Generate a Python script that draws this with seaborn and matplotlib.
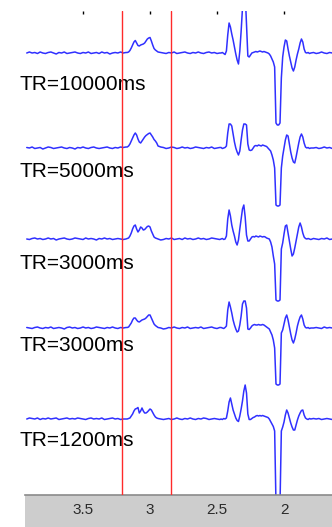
import numpy as np
import pandas as pd
import matplotlib
matplotlib.use("Agg")
import matplotlib.pyplot as plt
import seaborn as sns
from matplotlib.patches import Rectangle

# Chemical shift grid (ppm), shared by all five spectra
ppm = [3.92, 3.90, 3.88, 3.86, 3.84, 3.82, 3.80, 3.78, 3.76, 3.74, 3.72, 3.70, 3.68,
       3.66, 3.64, 3.62, 3.60, 3.58, 3.56, 3.54, 3.52, 3.50, 3.48, 3.46, 3.44, 3.42,
       3.40, 3.38, 3.36, 3.34, 3.32, 3.30, 3.28, 3.26, 3.24, 3.22, 3.20, 3.18,
       3.17, 3.16, 3.15, 3.14, 3.13, 3.12, 3.11, 3.10, 3.09, 3.08, 3.07, 3.06, 3.05,
       3.04, 3.03, 3.02, 3.01, 3.00, 2.99, 2.98, 2.97, 2.96, 2.95,
       2.94, 2.92, 2.90, 2.88, 2.86, 2.84, 2.82, 2.80, 2.78, 2.76, 2.74, 2.72, 2.70,
       2.68, 2.66, 2.64, 2.62, 2.60, 2.58, 2.56, 2.54, 2.52, 2.50, 2.48,
       2.47, 2.46, 2.45, 2.44, 2.43, 2.42, 2.41, 2.40, 2.39, 2.38,
       2.37, 2.36, 2.35, 2.34, 2.33, 2.32, 2.31, 2.30, 2.29, 2.28,
       2.27, 2.26, 2.25, 2.24, 2.23, 2.22, 2.21, 2.20, 2.19, 2.18,
       2.17, 2.16, 2.15, 2.14, 2.13, 2.12, 2.11, 2.10, 2.09, 2.08,
       2.07, 2.06, 2.05, 2.04, 2.03, 2.02, 2.01, 2.00, 1.99, 1.98,
       1.97, 1.96, 1.95, 1.94, 1.93, 1.92, 1.91, 1.90, 1.89, 1.88,
       1.87, 1.86, 1.85, 1.84, 1.83, 1.82, 1.81, 1.80,
       1.78, 1.76, 1.74, 1.72, 1.70, 1.68, 1.66, 1.64]

tr_labels = ["TR=10000ms", "TR=5000ms", "TR=3000ms", "TR=3000ms", "TR=1200ms"]

# Signal intensity (arbitrary units)
spec_tr10000 = [0, 1, 0, 0.5, -0.5, 1, 0, -0.5, 0.5, 1, 0, -1, 0.5, 0, 1, -0.5, 0, 0.5, 1, 0,
                -0.5, 0.5, 0, 1, -0.5, 0, 0.5, -0.5, 1, 0, 0.5, -1, 0, 0.5, 0, 1, 0, 0.5,
                0.5, 1, 2.5, 5, 8, 11, 12.5, 10, 7.5, 7, 8, 8.5, 9, 10, 12, 14, 15, 15.5, 12, 8, 4.5, 3, 2,
                1, 0.5, 0, -0.5, 0.5, 0, 1, -0.5, 0, 0.5, 1, 0, -0.5, 0.5, 0, 1, 0, -0.5, 0.5, 1, 0, 0.5, -0.5, 0,
                0, 0.5, -0.5, -1.5, 2, 18, 30, 26, 19, 13,
                6, -1, -7, -11, 2, 22, 45, 60, 60, 30,
                -3, -4, -2, 0, 0.5, 1, 1.5, 1, 1.5, 2,
                1.5, 1, 1.5, 1, 0.5, 0, -1, -3, -6, -9,
                -14, -70, -72, -72, -70, -25, -4, 6, 13, 12,
                4, -3, -9, -15, -18, -14, -7, -1, 4, 10,
                14, 11, 4, 0.5, 0, 0.5, -0.5, 0,
                0.5, -0.5, 0, 1, 0, -0.5, 0.5, 0]

spec_tr5000 = [0.5, 0, 1, -0.5, 0, 0.5, -1, 0, 1, 0.5, -0.5, 0, 0.5, 1, 0, -0.5, 0.5, 0, -1, 0.5,
               0, 1, 0, -0.5, 0.5, 1, 0, -0.5, 0, 0.5, 1, 0, -0.5, 0.5, 0, 1, 0.5, 1,
               1, 2, 4, 7, 10, 13, 15, 13, 9, 6, 5, 7, 9, 11, 12.5, 13.5, 14.5, 15, 13, 11, 8.5, 7, 5,
               2, 1, 0.5, -0.5, 0, 1, 0.5, -0.5, 0, 1, 0, 0.5, -0.5, 0, 1, 0.5, 0, -0.5, 0.5, 0, 1, -0.5, 0, 0.5,
               0.5, -0.5, 0, 0.5, 2, 15, 24, 24, 22, 14,
               6, 0, -4, -7, -3, 8, 18, 24, 24, 23,
               4, -2, -2.5, -2, 0, 2, 2.5, 2, 3, 2.5,
               2, 3, 2.5, 2, 1.5, 0, -1.5, -3, -7, -12,
               -20, -57, -58, -58, -57, -20, -8, 0, 8, 13,
               12, 4, -4, -10, -14, -15, -9, -2, 5, 11,
               14, 11, 5, 1, 0, 0.5, -0.5, 0,
               0, 0.5, -0.5, 0, 1, 0, 0.5, -0.5]

spec_tr3000a = [0, -0.5, 0.5, 1, 0, 0.5, -0.5, 0, 1, 0, 0.5, -1, 0, 0.5, 1, 0, -0.5, 0, 1, 0.5,
                0, -0.5, 1, 0, 0.5, 0, -1, 0.5, 0, 1, 0, 0.5, -0.5, 0, 0.5, 0, -0.5, 0,
                0.5, 1, 3, 6, 10, 13, 14, 10, 7, 9, 12, 11, 9, 9.5, 11, 12.5, 13, 12, 8, 5, 2, 1, 0.5,
                0, -1, -0.5, 0.5, 0, 1, -0.5, 0, 0.5, -0.5, 1, 0, 0.5, -0.5, 0, 1, 0, 0.5, -0.5, 0, 1, 0.5, 0, -0.5,
                0, 0.5, -0.5, 0, 3, 20, 29, 23, 14, 8,
                3, -3, -6, -1, 10, 20, 30, 34, 22, 4,
                -2, -2, 0, 2, 2.5, 2, 3, 2.5, 2, 3,
                2.5, 2, 2.5, 2, 1, 0.5, 0, -3, -8, -17,
                -25, -61, -62, -62, -61, -10, -4, 5, 13, 14,
                6, -2, -10, -17, -15, -9, -2, 5, 12, 16,
                12, 6, 2, 0.5, 0, 0.5, 0, -0.5,
                0.5, 0, -0.5, 0.5, 0, 1, -0.5, 0]

spec_tr3000b = [0.5, 0, -0.5, 0.5, 1, 0, -0.5, 0.5, 0, 1, -0.5, 0, 0.5, 0, -1, 0.5, 1, 0, 0.5, -0.5,
                0, 1, 0, 0.5, -0.5, 0, 1, 0.5, 0, -0.5, 0.5, 0, 1, 0, -0.5, 0.5, 0, 0.5,
                0.5, 1, 3, 5, 8, 10, 10, 8, 6.5, 6, 7, 8, 8.5, 9, 10, 11.5, 13, 13, 10, 7, 4, 2.5, 1.5,
                0.5, 0, -1, -0.5, 0.5, 0, 1, 0, -0.5, 0.5, 0, 1, -0.5, 0, 0.5, 0, 1, -0.5, 0, 0.5, 1, 0, -0.5, 0.5,
                0.5, 0, -0.5, 0.5, 2, 18, 26, 21, 15, 8,
                3, -1, -4, -3, 3, 12, 24, 27, 27, 20,
                -1, -1.5, 0, 2, 3, 3.5, 3, 3, 3.5, 3,
                3, 3.5, 3, 2, 1, 0, -1, -4, -7, -12,
                -20, -56, -57, -57, -56, -5, -2, 4, 10, 13,
                8, 1, -6, -12, -15, -11, -5, 2, 7, 11,
                13, 9, 3, 0.5, 0, 0.5, -0.5, 0,
                0, 0.5, 0, -0.5, 1, 0, 0.5, 0]

spec_tr1200 = [0, 1, 0.5, 0, 1, -0.5, 0.5, 0, 1, 0, 0.5, 1, -0.5, 0, 0.5, 1, 0, 0.5, 0, 1,
               0.5, 0, -0.5, 0.5, 1, 0, 0.5, 0, 1, -0.5, 0, 0.5, 1, 0, 0.5, -0.5, 0, 0,
               0, 0.5, 1, 3, 5, 8, 10, 10.5, 11.5, 6, 8, 11, 8, 6, 6, 7, 8.5, 10, 9, 6.5, 4, 2, 1,
               0.5, 0, -0.5, 0, 0.5, -0.5, 0, 1, 0, -0.5, 0.5, 0, 1, 0, -0.5, 0.5, 0, 1, 0.5, -0.5, 0, 0.5, 0, -0.5,
               0, -0.5, 0.5, 0, 1, 8, 17, 21, 15, 9,
               5, 1, -1.5, -2.5, 3, 10, 18, 28, 34, 26,
               5, -0.5, -0.5, 0.5, 1.5, 2, 3, 3.5, 3, 3.5,
               3, 3.5, 3, 2.5, 2, 1.5, 0, -2.5, -5, -7.5,
               -12, -85, -86, -86, -85, -12, -8, -3, 4, 9,
               6, 1, -4, -8, -11, -11, -6, -1, 3, 6,
               8.5, 9, 4, 1, 0, -0.5, 0.5, 0,
               0.5, 0, 0.5, -0.5, 0, 0.5, 0, -0.5]

spectra = [spec_tr10000, spec_tr5000, spec_tr3000a, spec_tr3000b, spec_tr1200]

marker_ppm = [3.21, 2.84]          # red integration limits
tick_ppm = [3.5, 3.0, 2.5, 2.0]
tick_labels = ["3.5", "3", "2.5", "2"]

# Layout (pixels of the 332x527 figure)
stack_offset = [442, 347, 256, 167, 76]
label_baseline_px = [90, 177, 269, 351, 446]

for s in spectra:
    assert len(s) == len(ppm), len(s)

frames = []
for i, s in enumerate(spectra):
    frames.append(pd.DataFrame({"ppm": ppm,
                                "signal": np.array(s, dtype=float) + stack_offset[i],
                                "trace": i}))
df = pd.concat(frames, ignore_index=True)

sns.set_style("white")
plt.rcParams["font.family"] = ["Liberation Sans", "DejaVu Sans"]

fig = plt.figure(figsize=(3.32, 5.27), dpi=100)
ax = fig.add_axes([25 / 332, 32 / 527, 307 / 332, 484 / 527])

# Gray band under the axis, as in the original viewer
fig.add_artist(Rectangle((25 / 332, 0), 307 / 332, 32 / 527, transform=fig.transFigure,
                         facecolor="#cdcdcd", edgecolor="none", zorder=-1))

sns.lineplot(data=df, x="ppm", y="signal", units="trace", estimator=None,
             color="#3030ff", linewidth=1.1, ax=ax, legend=False)

for m in marker_ppm:
    ax.axvline(m, color="#ff2a2a", linewidth=1.0, zorder=3)

for lab, yb in zip(tr_labels, label_baseline_px):
    ax.text(20 / 332, 1 - yb / 527, lab, transform=fig.transFigure, fontsize=15,
            color="black", ha="left", va="baseline", clip_on=False, zorder=1)

ax.set_xlim(3.933, 1.642)
ax.set_ylim(0, 484)
ax.set_xticks(tick_ppm)
ax.set_xticklabels(tick_labels)
ax.set_yticks([])
ax.set_xlabel("")
ax.set_ylabel("")
ax.tick_params(axis="x", bottom=False, top=True, direction="in", length=2, width=1,
               color="black", pad=5.5, labelsize=11, labelcolor="#2a2a2a")

sns.despine(ax=ax, left=True, top=True, right=True)
ax.spines["bottom"].set_color("#8a8a8a")
ax.spines["bottom"].set_linewidth(1.2)

plt.savefig("out.png", dpi=100)
